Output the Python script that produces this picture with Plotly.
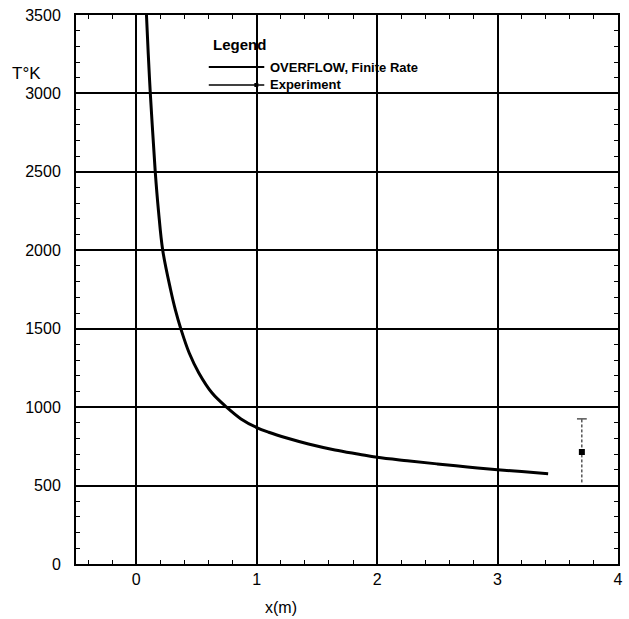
import plotly.graph_objects as go

# OVERFLOW finite-rate temperature along the axis
x_overflow = [0.085, 0.10, 0.117, 0.137, 0.158, 0.185, 0.22, 0.285, 0.325,
              0.37, 0.44, 0.52, 0.63, 0.75, 0.87, 1.0, 1.1, 1.25, 1.43,
              1.65, 1.85, 2.0, 2.25, 2.5, 2.75, 3.0, 3.2, 3.42]
t_overflow = [3500, 3250, 3000, 2750, 2500, 2250, 2000, 1750, 1620,
              1500, 1345, 1218, 1090, 1000, 925, 870, 840, 803, 765,
              727, 700, 680, 658, 638, 619, 601, 589, 576]

# Measured temperature with its uncertainty band
x_exp = [3.70]
t_exp = [714]
t_exp_low = [520]
t_exp_high = [925]

x_ticks = [0, 1, 2, 3, 4]
y_ticks = [0, 500, 1000, 1500, 2000, 2500, 3000, 3500]

legend_labels = ["OVERFLOW, Finite Rate", "Experiment"]

font_family = "Liberation Sans, Arial, sans-serif"

# plot-area geometry in pixels, used to place the hand-drawn legend box
W, H = 629, 619
M_L, M_R, M_T, M_B = 76, 6, 15, 55
PW, PH = W - M_L - M_R, H - M_T - M_B


def px_x(px):
    return (px - M_L) / PW


def px_y(py):
    return (H - M_B - py) / PH


fig = go.Figure()

fig.add_trace(go.Scatter(
    x=x_overflow, y=t_overflow, mode="lines",
    line=dict(color="black", width=3, shape="spline", smoothing=1.0),
    name=legend_labels[0], showlegend=False,
))

# dashed uncertainty bar with a cap at its upper end
fig.add_trace(go.Scatter(
    x=[x_exp[0], x_exp[0]], y=[t_exp_low[0], t_exp_high[0]], mode="lines",
    line=dict(color="black", width=1, dash="3px,2px"),
    showlegend=False, hoverinfo="skip",
))
fig.add_trace(go.Scatter(
    x=x_exp, y=t_exp_high, mode="markers",
    marker=dict(symbol="line-ew-open", size=7, color="black",
                line=dict(color="black", width=1)),
    showlegend=False, hoverinfo="skip",
))
fig.add_trace(go.Scatter(
    x=x_exp, y=t_exp, mode="markers",
    marker=dict(symbol="square", size=6, color="black"),
    name=legend_labels[1], showlegend=False,
))

axis_common = dict(
    showline=True, linecolor="black", linewidth=2, mirror="ticks",
    ticks="inside", ticklen=6, tickwidth=1.5, tickcolor="black",
    showgrid=True, gridcolor="black", gridwidth=1.5,
    zeroline=False,
    tickfont=dict(family=font_family, size=16, color="black"),
)

fig.update_xaxes(
    range=[-0.5, 4], tickvals=x_ticks, ticklabelstandoff=0,
    minor=dict(dtick=0.2, ticks="inside", ticklen=4, tickwidth=1,
               tickcolor="black", showgrid=False),
    **axis_common,
)
fig.update_yaxes(
    range=[0, 3500], tickvals=y_ticks, ticklabelstandoff=10,
    minor=dict(dtick=100, ticks="inside", ticklen=4, tickwidth=1,
               tickcolor="black", showgrid=False),
    **axis_common,
)

fig.add_annotation(
    text="x(m)", xref="paper", yref="paper", x=px_x(283), y=px_y(607),
    xanchor="center", yanchor="middle", showarrow=False,
    font=dict(family=font_family, size=16, color="black"),
)
fig.add_annotation(
    text="T°K", xref="paper", yref="paper", x=px_x(9), y=px_y(73),
    xanchor="left", yanchor="middle", showarrow=False,
    font=dict(family=font_family, size=17, color="black"),
)

# legend box: title, two sample lines, labels
fig.add_annotation(
    text="<b>Legend</b>", xref="paper", yref="paper", x=px_x(212), y=px_y(45),
    xanchor="left", yanchor="middle", showarrow=False,
    font=dict(family=font_family, size=15, color="black"),
)
for label, py in zip(legend_labels, [67, 85]):
    fig.add_annotation(
        text="<b>" + label + "</b>", xref="paper", yref="paper",
        x=px_x(270), y=px_y(py), xanchor="left", yanchor="middle",
        showarrow=False, font=dict(family=font_family, size=13, color="black"),
    )
fig.add_shape(type="line", xref="paper", yref="paper",
              x0=px_x(210), x1=px_x(266), y0=px_y(67), y1=px_y(67),
              line=dict(color="black", width=2))
fig.add_shape(type="line", xref="paper", yref="paper",
              x0=px_x(210), x1=px_x(266), y0=px_y(85), y1=px_y(85),
              line=dict(color="black", width=1.5))
fig.add_shape(type="rect", xref="paper", yref="paper",
              x0=px_x(256), x1=px_x(260), y0=px_y(83), y1=px_y(87),
              line=dict(color="black", width=0), fillcolor="black")

fig.update_layout(
    width=W, height=H,
    margin=dict(l=M_L, r=M_R, t=M_T, b=M_B),
    plot_bgcolor="white", paper_bgcolor="white",
    showlegend=False,
)

fig.write_html("out.html")
